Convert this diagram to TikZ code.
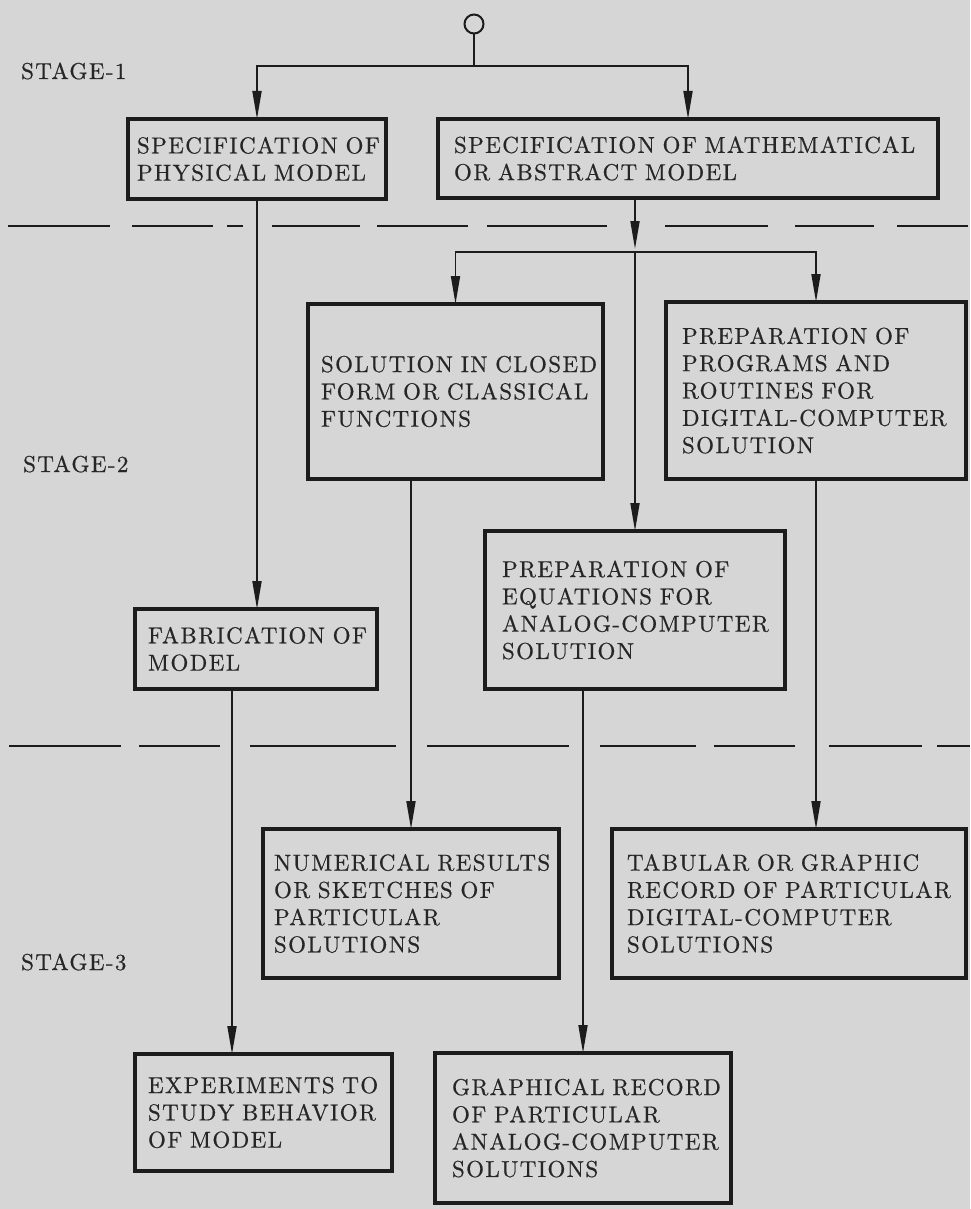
\documentclass[tikz,border=0pt]{standalone}
\usepackage{fontspec}
\setmainfont{lmroman10-regular.otf}[LetterSpace=6,FakeBold=0.6]
\usetikzlibrary{arrows.meta}
\definecolor{bg}{RGB}{214,214,214}
\definecolor{ink}{RGB}{28,28,28}
\definecolor{txt}{RGB}{38,38,38}
\newcommand\bx[7]{%
 \pgfmathsetmacro\bxtw{#4-2*#6}%
 \pgfmathsetmacro\bxis{#6-2}%
 \pgfmathsetmacro\bxmw{#4-4}%
 \pgfmathsetmacro\bxmh{#5-4}%
 \node[box, text width=\bxtw pt, inner xsep=\bxis pt, minimum width=\bxmw pt, minimum height=\bxmh pt] (#1) at (#2+2,#3+2) {#7};}
\begin{document}
\begin{tikzpicture}[x=1pt,y=-1pt,
  box/.style={draw=ink, line width=4pt, rectangle, anchor=north west, align=left, text=txt,
    font=\fontsize{23}{27.3}\selectfont,
    execute at begin node={\exhyphenpenalty=10000 \hyphenpenalty=10000 },
    inner ysep=0pt, outer sep=0pt},
  conn/.style={draw=ink, line width=1.8pt},
  arr/.style={conn, -{Triangle[length=28pt,width=9pt]}},
  dashln/.style={draw=ink, line width=2.6pt},
  stage/.style={anchor=base west, text=txt, font=\fontsize{23}{27}\selectfont, inner sep=0pt},
]
\fill[bg] (0,0) rectangle (970,1209);
\useasboundingbox (0,0) rectangle (970,1209);

% stage labels
\node[stage] (st1) at (21,79) {STAGE-1};
\node[stage] (st2) at (23,472) {STAGE-2};
\node[stage] (st3) at (21,970) {STAGE-3};

% dashed stage separators
\foreach \a/\b in {8/110,132/213,227/243,272/360,377/468,487/607,665/768,795/874,897/968}
  \draw[dashln] (\a,226) -- (\b,226);
\foreach \a/\b in {9/121,139/220,250/396,427/569,600/696,714/795,829/922,937/970}
  \draw[dashln] (\a,746) -- (\b,746);

% boxes
\bx{A}{126}{117}{262}{84}{11}{SPECIFICATION~OF\\PHYSICAL~MODEL}
\bx{B}{436}{117}{504}{83}{18}{SPECIFICATION~OF~MATHEMATICAL\\OR~ABSTRACT~MODEL}
\bx{Sol}{306}{302}{299}{179}{15}{SOLUTION~IN~CLOSED\\FORM~OR~CLASSICAL\\FUNCTIONS}
\bx{Prog}{664}{300}{304}{181}{18}{PREPARATION~OF\\PROGRAMS~AND\\ROUTINES~FOR\\DIGITAL-COMPUTER\\SOLUTION}
\bx{Fab}{133}{607}{246}{84}{15}{FABRICATION~OF\\MODEL}
\bx{Eq}{483}{529}{304}{162}{19}{PREPARATION~OF\\EQUATIONS~FOR\\ANALOG-COMPUTER\\SOLUTION}
\bx{Num}{261}{827}{300}{153}{13}{NUMERICAL~RESULTS\\OR~SKETCHES~OF\\PARTICULAR\\SOLUTIONS}
\bx{Tab}{610}{827}{358}{153}{17}{TABULAR~OR~GRAPHIC\\RECORD~OF~PARTICULAR\\DIGITAL-COMPUTER\\SOLUTIONS}
\bx{Exp}{133}{1052}{261}{121}{15}{EXPERIMENTS~TO\\STUDY~BEHAVIOR\\OF~MODEL}
\bx{Gra}{433}{1051}{300}{154}{19}{GRAPHICAL~RECORD\\OF~PARTICULAR\\ANALOG-COMPUTER\\SOLUTIONS}

% start circle and junctions
\node[draw=ink, line width=2pt, circle, minimum size=19pt, inner sep=0pt] (c) at (474,24) {};
\coordinate (j1) at (474,66);
\coordinate (j2) at (635,252);
\coordinate (f1) at (232,700);

% connectors
\draw[conn] (c.south) -- (j1);
\draw[arr] (j1) -| (A.north);
\draw[arr] (j1) -| (B.north);
\draw[arr, shorten >=3pt] (B.south -| j2) -- (j2);
\draw[arr] (j2) -- (Eq.north);
\draw[arr] (j2) -| (Sol.north);
\draw[arr] (j2) -| (Prog.north);
\draw[arr] (A.south) -- (Fab.north -| A.south);
\draw[arr] (Sol.south -| Num.north) -- (Num.north);
\draw[arr] (Prog.south) -- (Tab.north -| Prog.south);
\draw[arr] (Fab.south -| f1) -- (Exp.north -| f1);
\draw[arr] (Eq.south -| Gra.north) -- (Gra.north);
\end{tikzpicture}
\end{document}
